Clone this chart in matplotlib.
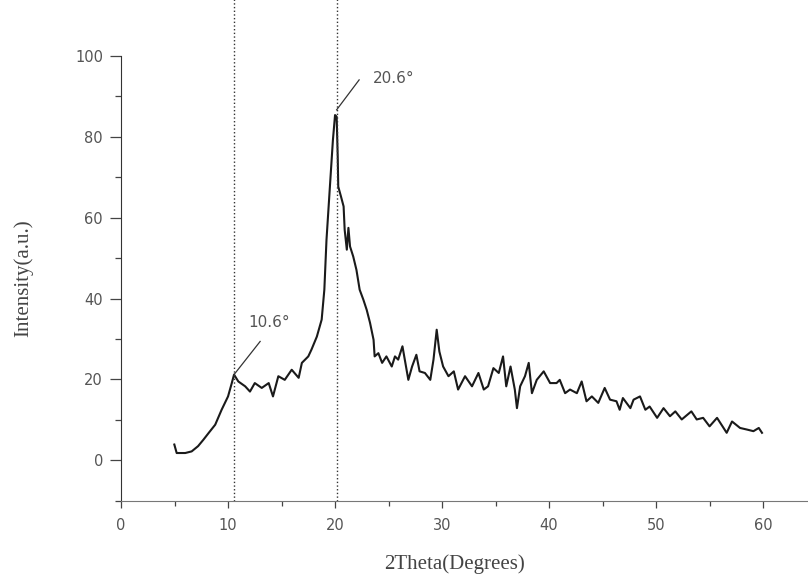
import numpy as np
import matplotlib.pyplot as plt
from matplotlib.ticker import MultipleLocator

# Padrão de XRD (2theta, intensidade)
two_theta = [4.98, 5.2, 6.0, 6.6, 7.2, 7.7, 8.2, 8.8, 9.4, 10.0, 10.35, 10.56,
             10.96, 11.6, 12.05, 12.5, 13.15, 13.8, 14.2, 14.7, 15.3, 15.95,
             16.6, 16.9, 17.5, 17.8, 18.3, 18.75, 19.0, 19.2, 19.5, 19.8, 20.0,
             20.15, 20.25, 20.3, 20.56, 20.8, 20.9, 21.1, 21.25, 21.4, 21.7,
             22.0, 22.3, 22.65, 22.96, 23.27, 23.6, 23.7, 24.05, 24.4, 24.8,
             25.3, 25.6, 25.9, 26.3, 26.85, 27.2, 27.6, 27.9, 28.4, 28.9, 29.2,
             29.5, 29.75, 30.1, 30.6, 31.1, 31.5, 32.15, 32.8, 33.4, 33.9, 34.3,
             34.8, 35.3, 35.7, 36.0, 36.4, 36.8, 37.0, 37.3, 37.75, 38.1, 38.4,
             38.85, 39.5, 40.1, 40.7, 41.0, 41.5, 41.96, 42.6, 43.05, 43.5, 44.0,
             44.6, 45.2, 45.7, 46.3, 46.6, 46.9, 47.6, 47.9, 48.5, 49.0, 49.4,
             50.1, 50.7, 51.3, 51.8, 52.4, 53.3, 53.8, 54.4, 55.0, 55.7, 56.6,
             57.1, 57.85, 58.5, 59.1, 59.6, 59.9]
intensity = [3.9, 1.8, 1.8, 2.2, 3.5, 5.1, 6.8, 8.8, 12.5, 15.8, 19.1, 21.2,
             19.5, 18.3, 17.0, 19.1, 17.9, 19.1, 15.8, 20.8, 19.9, 22.4,
             20.4, 24.1, 25.7, 27.4, 30.6, 34.8, 42.2, 54.5, 66.9, 79.2, 85.4,
             85.0, 75.1, 67.7, 65.2, 62.8, 57.0, 52.1, 57.5, 52.9, 50.4,
             47.1, 42.2, 39.7, 37.2, 34.0, 29.8, 25.7, 26.5, 24.1, 25.7,
             23.2, 25.7, 24.9, 28.2, 19.9, 23.2, 26.1, 22.0, 21.6, 19.9, 24.9,
             32.3, 26.9, 23.2, 20.8, 22.0, 17.5, 20.8, 18.3, 21.6, 17.5, 18.3,
             22.8, 21.6, 25.7, 18.3, 23.2, 17.5, 12.9, 18.3, 20.8, 24.1, 16.6,
             19.9, 22.0, 19.1, 19.1, 19.9, 16.6, 17.5, 16.6, 19.5, 14.6, 15.8,
             14.2, 17.9, 15.0, 14.6, 12.5, 15.4, 12.9, 15.0, 15.8, 12.5, 13.3,
             10.5, 12.9, 10.9, 12.1, 10.1, 12.1, 10.1, 10.5, 8.4, 10.5, 6.8,
             9.6, 8.0, 7.6, 7.2, 8.0, 6.8]

peak_lines = [10.6, 20.2]
peak_labels = ['10.6°', '20.6°']

fig = plt.figure(figsize=(8.08, 5.76), dpi=100)
ax = fig.add_axes([0.1498, 0.1307, 0.8502, 0.772])

ax.plot(two_theta, intensity, color='#1a1a1a', lw=1.5)

# linhas pontilhadas nos picos
for xp in peak_lines:
    ax.plot([xp, xp], [-10, 114], ls=':', color='#333333', lw=1.0, clip_on=False)

# anotações dos picos
ax.plot([10.56, 13.0], [21.2, 29.4], color='#333333', lw=0.9)
ax.text(11.87, 33.0, peak_labels[0], fontsize=11, color='#555555', family='DejaVu Sans')
ax.plot([20.15, 22.25], [86.7, 94.1], color='#333333', lw=0.9, clip_on=False)
ax.text(23.55, 93.3, peak_labels[1], fontsize=11, color='#555555', family='DejaVu Sans')

ax.set_xlim(0, 64.2)
ax.set_ylim(-10, 100)
ax.xaxis.set_major_locator(MultipleLocator(10))
ax.xaxis.set_minor_locator(MultipleLocator(5))
ax.yaxis.set_major_locator(MultipleLocator(20))
ax.yaxis.set_minor_locator(MultipleLocator(10))

for s in ['top', 'right']:
    ax.spines[s].set_visible(False)
ax.spines['left'].set_color('#333333')
ax.spines['bottom'].set_color('#777777')
ax.tick_params(which='both', direction='out', colors='#444444', labelcolor='#555555',
               labelsize=10.5, width=0.9)
ax.tick_params(axis='y', which='major', length=8, pad=5)
ax.tick_params(axis='y', which='minor', length=4.5)
ax.tick_params(axis='x', which='major', length=5, pad=7.5)
ax.tick_params(axis='x', which='minor', length=3.5)
for lbl in ax.get_xticklabels() + ax.get_yticklabels():
    lbl.set_family('DejaVu Sans')

fig.text(455 / 808, 1 - 564 / 576, '2Theta(Degrees)', ha='center', va='center',
         fontsize=15, color='#444444', family='Liberation Serif')
fig.text(23 / 808, 1 - 278 / 576, 'Intensity(a.u.)', ha='center', va='center',
         rotation=90, fontsize=15, color='#444444', family='Liberation Serif')

fig.savefig('out.png', dpi=100)
